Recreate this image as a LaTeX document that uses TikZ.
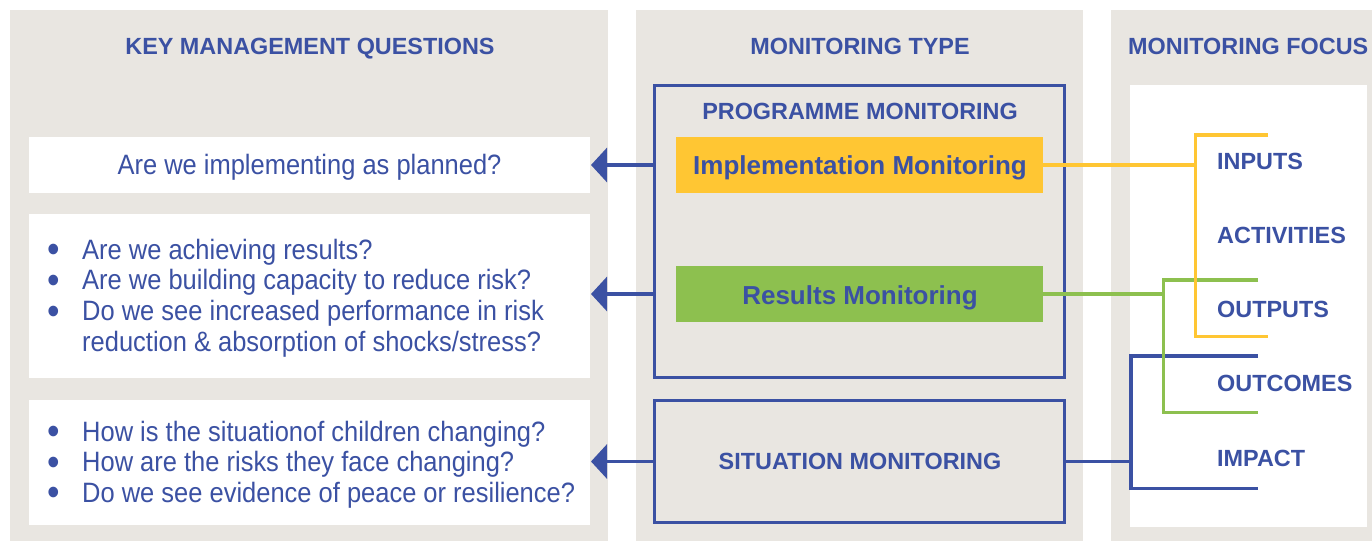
\documentclass[tikz,border=0pt]{standalone}
\usepackage{fontspec}
\usepackage{graphicx}
\setmainfont{Liberation Sans}
\newfontfamily\qfont[FakeStretch=0.91]{Liberation Sans}
\usetikzlibrary{arrows.meta}
\definecolor{mblue}{RGB}{59,81,163}
\definecolor{myel}{RGB}{255,198,51}
\definecolor{mgreen}{RGB}{141,192,79}
\definecolor{mgray}{RGB}{233,230,225}
\newcommand{\bl}[1]{\makebox[34.5pt][l]{\raisebox{-3.6pt}{\scalebox{1.4}{•}}}#1\strut}
\newcommand{\nb}[1]{\makebox[34.5pt][l]{}#1\strut}
\begin{document}
\begin{tikzpicture}[x=1pt,y=-1pt,
  panel/.style={fill=mgray, inner sep=0pt, outer sep=0pt, anchor=north west, minimum height=531pt},
  wbox/.style={fill=white, inner sep=0pt, outer sep=0pt},
  frame/.style={draw=mblue, line width=3.3pt, inner sep=0pt, outer sep=0pt},
  hdr/.style={text=mblue, font=\bfseries\fontsize{23.4}{28}\selectfont, inner sep=0pt},
  lbl/.style={text=mblue, font=\bfseries\fontsize{26}{30}\selectfont, inner sep=0pt, anchor=base},
  qtext/.style={text=mblue, font=\qfont\fontsize{28}{30.6}\selectfont, inner sep=0pt},
  arr/.style={draw=mblue, line width=3.3pt, -{Triangle[length=16pt,width=34pt]}},
  bline/.style={draw=mblue, line width=3.3pt},
  gline/.style={draw=mgreen, line width=3.3pt},
  yline/.style={draw=myel, line width=3.3pt},
]
\useasboundingbox (0,0) rectangle (1372,541);

% panels
\node[panel, minimum width=598pt] (pL) at (10,10) {};
\node[panel, minimum width=447pt] (pM) at (636,10) {};
\node[panel, minimum width=261pt] (pR) at (1111,10) {};

% headers
\node[hdr, anchor=base] (h1) at (310,54.5) {KEY MANAGEMENT QUESTIONS};
\node[hdr, anchor=base] (h2) at (860,54.5) {MONITORING TYPE};
\node[hdr, anchor=base west] (h3) at (1128,54.5) {MONITORING FOCUS};

% left question boxes
\node[wbox, minimum width=561pt, minimum height=56pt] (q1) at (309.5,165) {};
\node[wbox, minimum width=561pt, minimum height=164pt] (q2) at (309.5,296) {};
\node[wbox, minimum width=561pt, minimum height=125pt] (q3) at (309.5,462.5) {};

\node[qtext, anchor=base] (q1t) at (309.5,174) {Are we implementing as planned?};
\node[qtext, anchor=north west, align=left] (q2t) at (47.5,237.7)
  {\bl{Are we achieving results?}\\
   \bl{Are we building capacity to reduce risk?}\\
   \bl{Do we see increased performance in risk}\\
   \nb{reduction \& absorption of shocks/stress?}};
\node[qtext, anchor=north west, align=left] (q3t) at (47.5,419.4)
  {\bl{How is the situationof children changing?}\\
   \bl{How are the risks they face changing?}\\
   \bl{Do we see evidence of peace or resilience?}};

% monitoring type
\node[frame, minimum width=410pt, minimum height=292.3pt] (pm) at (859.5,231.6) {};
\node[hdr, anchor=base] (pmt) at (860,119.3) {PROGRAMME MONITORING};
\node[fill=myel, inner sep=0pt, minimum width=367pt, minimum height=56pt] (impl) at (859.5,165) {};
\node[lbl] (implt) at (860,174.3) {Implementation Monitoring};
\node[fill=mgreen, inner sep=0pt, minimum width=367pt, minimum height=56pt] (res) at (859.5,294) {};
\node[lbl] (rest) at (860,304) {Results Monitoring};
\node[frame, minimum width=410pt, minimum height=122pt] (sit) at (859.5,461.5) {};
\node[hdr, anchor=base] (sitt) at (860,469.3) {SITUATION MONITORING};

% arrows to questions
\draw[arr] (pm.west |- impl.center) -- ([xshift=1pt]q1.east |- impl.center);
\draw[arr] (pm.west |- res.center) -- ([xshift=1pt]q2.east |- res.center);
\draw[arr] (sit.west) -- ([xshift=1pt]q3.east |- sit.west);

% monitoring focus
\node[fill=white, inner sep=0pt, minimum width=237pt, minimum height=442pt] (rw) at (1248.5,306) {};
\node[hdr, anchor=base west] (f1) at (1217,169.3) {INPUTS};
\node[hdr, anchor=base west] (f2) at (1217,243.3) {ACTIVITIES};
\node[hdr, anchor=base west] (f3) at (1217,317.3) {OUTPUTS};
\node[hdr, anchor=base west] (f4) at (1217,391) {OUTCOMES};
\node[hdr, anchor=base west] (f5) at (1217,466.7) {IMPACT};

\coordinate (bT) at (1258,356);
\coordinate (bB) at (1258,488.3);
\coordinate (bJ) at (1131,461.5);
\coordinate (gT) at (1258,280);
\coordinate (gB) at (1258,412.7);
\coordinate (gJ) at (1163.3,294);
\coordinate (yT) at (1268,135);
\coordinate (yB) at (1268,336.7);
\coordinate (yJ) at (1195.7,165);

\draw[bline] (sit.east) -- (bJ);
\draw[bline] (bT) -- (bJ |- bT) -- (bJ |- bB) -- (bB);
\draw[gline] (res.east) -- (gJ);
\draw[gline] (gT) -- (gJ |- gT) -- (gJ |- gB) -- (gB);
\draw[yline] (impl.east) -- (yJ);
\draw[yline] (yT) -- (yJ |- yT) -- (yJ |- yB) -- (yB);
\end{tikzpicture}
\end{document}
